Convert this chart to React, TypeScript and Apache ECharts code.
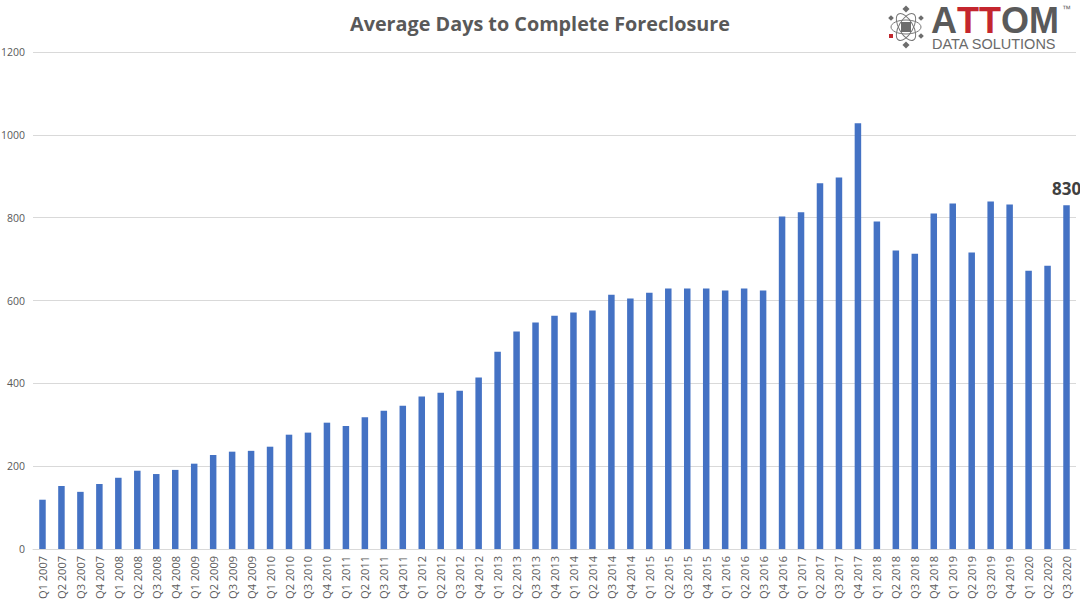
import React, { useEffect, useRef } from "react";
import * as echarts from "echarts";

const categories: string[] = [
  "Q1 2007", "Q2 2007", "Q3 2007", "Q4 2007",
  "Q1 2008", "Q2 2008", "Q3 2008", "Q4 2008",
  "Q1 2009", "Q2 2009", "Q3 2009", "Q4 2009",
  "Q1 2010", "Q2 2010", "Q3 2010", "Q4 2010",
  "Q1 2011", "Q2 2011", "Q3 2011", "Q4 2011",
  "Q1 2012", "Q2 2012", "Q3 2012", "Q4 2012",
  "Q1 2013", "Q2 2013", "Q3 2013", "Q4 2013",
  "Q1 2014", "Q2 2014", "Q3 2014", "Q4 2014",
  "Q1 2015", "Q2 2015", "Q3 2015", "Q4 2015",
  "Q1 2016", "Q2 2016", "Q3 2016", "Q4 2016",
  "Q1 2017", "Q2 2017", "Q3 2017", "Q4 2017",
  "Q1 2018", "Q2 2018", "Q3 2018", "Q4 2018",
  "Q1 2019", "Q2 2019", "Q3 2019", "Q4 2019",
  "Q1 2020", "Q2 2020", "Q3 2020",
];

const averageDays: number[] = [
  119, 152, 138, 157,
  172, 189, 181, 191,
  206, 227, 235, 237,
  247, 276, 281, 305,
  297, 318, 334, 346,
  368, 377, 382, 414,
  476, 525, 547, 563,
  571, 576, 614, 605,
  619, 629, 629, 629,
  624, 629, 624, 803,
  813, 883, 897, 1028,
  791, 721, 713, 810,
  834, 716, 839, 832,
  672, 684, 830,
];

const yTicks = { min: 0, max: 1200, interval: 200 };

const titleText = "Average Days to Complete Foreclosure";

export default function App() {
  const ref = useRef<HTMLDivElement>(null);

  useEffect(() => {
    if (!ref.current) return;
    const chart = echarts.init(ref.current, null, { renderer: "svg" });
    const last = averageDays.length - 1;
    const data = averageDays.map((v, i) =>
      i === last
        ? {
            value: v,
            label: {
              show: true,
              position: "top",
              distance: 8,
              fontSize: 17,
              fontWeight: "bold",
              color: "#404040",
              fontFamily: "Open Sans",
            },
          }
        : v
    );

    const iconCx = 906;
    const iconCy = 27;
    const diamond = (x: number, y: number, s: number, color: string) => ({
      type: "rect",
      x,
      y,
      originX: 0,
      originY: 0,
      rotation: Math.PI / 4,
      shape: { x: -s / 2, y: -s / 2, width: s, height: s },
      style: { fill: color },
    });

    chart.setOption({
      animation: false,
      backgroundColor: "#ffffff",
      title: {
        text: titleText,
        left: "center",
        top: 8,
        textStyle: {
          fontFamily: "Open Sans",
          fontSize: 19.8,
          fontWeight: "bold",
          color: "#595959",
        },
      },
      grid: {
        left: 33,
        right: 4,
        top: 52,
        bottom: 56,
        containLabel: false,
        outerBoundsMode: "none",
      },
      xAxis: {
        type: "category",
        data: categories,
        axisTick: { show: false },
        axisLine: { lineStyle: { color: "#d9d9d9", width: 1 } },
        axisLabel: {
          interval: 0,
          rotate: 90,
          margin: 7,
          fontSize: 11,
          color: "#595959",
          fontFamily: "Open Sans",
        },
      },
      yAxis: {
        type: "value",
        min: yTicks.min,
        max: yTicks.max,
        interval: yTicks.interval,
        axisLine: { show: false },
        axisTick: { show: false },
        splitLine: { lineStyle: { color: "#d9d9d9", width: 1 } },
        axisLabel: {
          margin: 8,
          fontSize: 10.5,
          color: "#595959",
          fontFamily: "Open Sans",
          formatter: (v: number) => String(v),
        },
      },
      series: [
        {
          type: "bar",
          data,
          barWidth: 6.5,
          itemStyle: { color: "#4472c4" },
        },
      ],
      graphic: [
        // logo icon
        {
          type: "ellipse",
          shape: { cx: iconCx, cy: iconCy, rx: 15, ry: 7 },
          rotation: Math.PI / 3,
          originX: iconCx,
          originY: iconCy,
          style: { fill: "none", stroke: "#777", lineWidth: 1 },
        },
        {
          type: "ellipse",
          shape: { cx: iconCx, cy: iconCy, rx: 15, ry: 7 },
          rotation: -Math.PI / 3,
          originX: iconCx,
          originY: iconCy,
          style: { fill: "none", stroke: "#777", lineWidth: 1 },
        },
        {
          type: "ellipse",
          shape: { cx: iconCx, cy: iconCy, rx: 15, ry: 7 },
          style: { fill: "none", stroke: "#777", lineWidth: 1 },
        },
        {
          type: "rect",
          shape: { x: iconCx - 5, y: iconCy - 5, width: 10, height: 10 },
          style: { fill: "#6d6d6d" },
        },
        diamond(iconCx, iconCy - 18, 5, "#6d6d6d"),
        diamond(iconCx, iconCy + 18, 5, "#6d6d6d"),
        diamond(iconCx - 15, iconCy - 9, 4, "#6d6d6d"),
        diamond(iconCx + 15, iconCy - 9, 4, "#6d6d6d"),
        diamond(iconCx + 15, iconCy + 9, 4, "#6d6d6d"),
        {
          type: "rect",
          shape: { x: iconCx - 17, y: iconCy + 7, width: 4, height: 4 },
          style: { fill: "#c0272d" },
        },
        // logo wordmark (single text block: ATTOM over DATA SOLUTIONS)
        {
          type: "text",
          x: 931,
          y: 5,
          style: {
            text: "{g|A}{r|TT}{g|OM}\n{d|DATA SOLUTIONS}",
            verticalAlign: "top",
            rich: {
              g: {
                fontFamily: "Liberation Sans",
                fontSize: 36,
                lineHeight: 30,
                fontWeight: "bold",
                fill: "#5a5a5a",
              },
              r: {
                fontFamily: "Liberation Sans",
                fontSize: 36,
                lineHeight: 30,
                fontWeight: "bold",
                fill: "#c4262e",
              },
              d: {
                fontFamily: "Liberation Sans",
                fontSize: 14.5,
                lineHeight: 16,
                fill: "#6a6a6a",
                padding: [2, 0, 0, 1],
              },
            },
          },
        },
        {
          type: "text",
          x: 1062,
          y: 4,
          style: {
            text: "™",
            fontFamily: "Liberation Sans",
            fontSize: 9,
            fill: "#666",
          },
        },
      ],
    });

    return () => chart.dispose();
  }, []);

  return (
    <div
      ref={ref}
      style={{ position: "fixed", left: 0, top: 0, width: 1080, height: 605 }}
    />
  );
}
